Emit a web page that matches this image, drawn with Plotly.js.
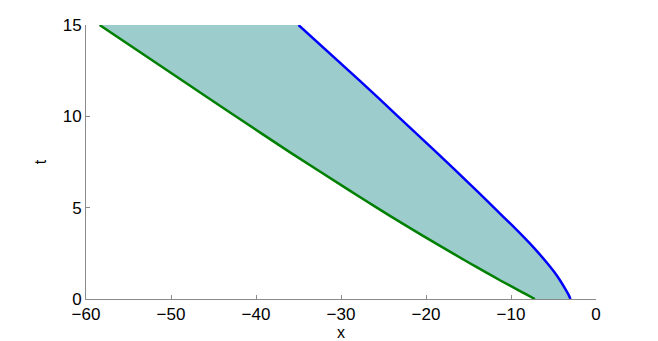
<!DOCTYPE html>
<html>
<head>
<meta charset="utf-8">
<script src="https://cdn.plot.ly/plotly-3.0.1.min.js"></script>
<style>
  html, body { margin: 0; padding: 0; background: #fff; }
  #chart { width: 658px; height: 341px; }
</style>
</head>
<body>
<div id="chart"></div>
<script>
// ---- data ----
const tVals   = [0, 0.25, 0.5, 1, 1.5, 2, 3, 4, 5, 6, 8, 10, 12, 15];
const xBlue   = [-3.0, -3.25, -3.55, -4.2, -4.95, -5.8, -7.7, -9.8, -12.0, -14.2, -18.7, -23.3, -27.9, -35.0];
const xGreen  = [-7.2, -8.2, -9.2, -11.2, -13.1, -15.0, -18.7, -22.3, -25.8, -29.2, -35.9, -42.4, -48.8, -58.4];
const xTicks  = [-60, -50, -40, -30, -20, -10, 0];
const tTicks  = [0, 5, 10, 15];

// region between the two curves (blue out, green back)
const fillX = xBlue.concat(xGreen.slice().reverse());
const fillT = tVals.concat(tVals.slice().reverse());

const axisCol = "#8a8a8a";
const font = { family: "Liberation Sans, Arial, sans-serif", size: 17, color: "#000" };

const data = [
  {
    type: "scatter", mode: "lines", x: fillX, y: fillT,
    fill: "toself", fillcolor: "rgb(156,204,204)",
    line: { width: 0 }, hoverinfo: "skip", showlegend: false
  },
  {
    type: "scatter", mode: "lines", x: xGreen, y: tVals,
    line: { color: "#008000", width: 2.5, shape: "spline", smoothing: 0.6 }, showlegend: false
  },
  {
    type: "scatter", mode: "lines", x: xBlue, y: tVals,
    line: { color: "#0000ff", width: 2.5, shape: "spline", smoothing: 0.6 }, showlegend: false
  }
];

const layout = {
  width: 658, height: 341,
  margin: { l: 86, r: 62, t: 25, b: 42 },
  paper_bgcolor: "#fff", plot_bgcolor: "#fff",
  font: font,
  xaxis: {
    range: [-60, 0], tickvals: xTicks,
    showgrid: false, zeroline: false,
    showline: true, linecolor: axisCol, linewidth: 1,
    ticks: "inside", ticklen: 4, tickcolor: axisCol,
    tickfont: font,
    title: { text: "x", font: { family: font.family, size: 16, color: "#000" }, standoff: 0 }
  },
  yaxis: {
    range: [0, 15], tickvals: tTicks,
    showgrid: false, zeroline: false,
    showline: true, linecolor: axisCol, linewidth: 1,
    ticks: "inside", ticklen: 4, tickcolor: axisCol,
    tickfont: font,
    title: { text: "t", font: { family: font.family, size: 16, color: "#000" }, standoff: 12 }
  }
};

Plotly.newPlot("chart", data, layout, { displayModeBar: false, staticPlot: true });
</script>
</body>
</html>
